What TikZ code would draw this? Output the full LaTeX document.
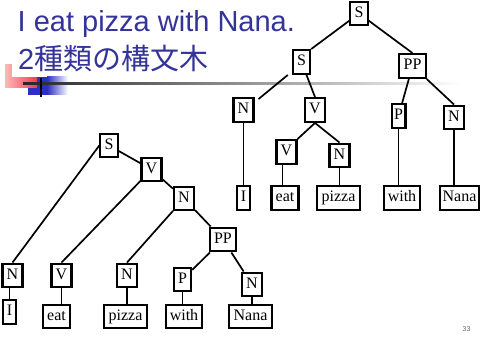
\documentclass[tikz,border=0pt]{standalone}
\usepackage{fontspec}
\setmainfont{Liberation Serif}
\newfontfamily\titlefont{Liberation Sans}
\newfontfamily\cjkfont{Noto Sans CJK JP}
\definecolor{titleblue}{RGB}{51,51,153}
\definecolor{pinkL}{RGB}{255,185,185}
\definecolor{pinkR}{RGB}{238,60,80}
\definecolor{blueD}{RGB}{45,45,200}
\begin{document}
\begin{tikzpicture}[x=1pt,y=-1pt,
  box/.style={draw,line width=2.1pt,inner xsep=4.2pt,inner ysep=0pt,
    minimum height=23.8pt,text height=11pt,text depth=3.5pt,
    font=\fontsize{16}{16}\selectfont},
  edge/.style={line width=1.7pt},
  ttl/.style={anchor=base west,inner sep=0pt,text=titleblue,
    font=\titlefont\fontsize{29}{29}\selectfont}]
\useasboundingbox[fill=white] (0,0) rectangle (480,353);
% decoration
\fill[blueD] (28,77) rectangle (47,95);
\shade[left color=blueD,right color=white] (47,77) rectangle (68,95);
\shade[left color=pinkL,right color=pinkR] (5,65) rectangle (37,88);
\fill[white] (12,63) rectangle (40,77);
\shade[left color=black!85,right color=white] (23,83) rectangle (462,85);
\fill[black] (40,78) rectangle (42,97);
% title
\node[ttl] (t1) at (17.5,32) {I eat pizza with Nana.};
\node[ttl] (t2) at (18,69.5) {2{\cjkfont 種類の構文木}};
\node[inner sep=0pt,text=black!60,font=\titlefont\fontsize{7}{7}\selectfont] (pg) at (466.5,329.5) {33};
% upper tree
\node[box] (uS) at (359,13.5) {S};
\node[box] (uS2) at (301.5,62) {S};
\node[box] (uPP) at (412.5,66) {PP};
\node[box] (uN) at (243.5,110) {N};
\node[box] (uV) at (315,110) {V};
\node[box] (uVs) at (286.5,152) {V};
\node[box] (uNs) at (339.5,155.5) {N};
\node[box,inner xsep=2.5pt] (uP) at (398.5,116) {P};
\node[box] (uNr) at (454,117.5) {N};
\node[box] (uI) at (243.5,198) {I};
\node[box] (ueat) at (285,198) {eat};
\node[box] (upizza) at (338.5,198) {pizza};
\node[box] (uwith) at (402,198) {with};
\node[box,inner xsep=3pt] (uNana) at (459.5,198) {Nana};
\draw[edge] (uS) -- (uS2.north east);
\draw[edge] (uS) -- (uPP.north);
\draw[edge] ([xshift=-4pt]uS2.south west) -- ([xshift=4pt,yshift=-2pt]uN.north east);
\draw[edge] (uS2) -- (uV.north);
\draw[edge] (uN) -- (uI);
\draw[edge] (uV.south) -- (uVs.north east);
\draw[edge] (uV.south) -- (uNs.north);
\draw[edge] ([xshift=-4pt]uVs.south) -- ([xshift=-4pt]uVs.south |- ueat.north);
\draw[edge] (uNs.south) -- (uNs.south |- upizza.north);
\draw[edge] (uPP) -- (uP);
\draw[edge] (uPP.south east) -- (uNr.north);
\draw[edge] (uP.south) -- (uP.south |- uwith.north);
\draw[edge] (uNr.south) -- (uNr.south |- uNana.north);
% lower tree
\node[box] (lS) at (109,145.5) {S};
\node[box] (lV) at (151.5,169.5) {V};
\node[box] (lN) at (184,198.5) {N};
\node[box] (lPP) at (223,239.5) {PP};
\node[box] (lN1) at (12.5,275.5) {N};
\node[box] (lI) at (9.5,312) {I};
\node[box] (lV1) at (61.5,275.5) {V};
\node[box] (leat) at (56.5,316.5) {eat};
\node[box] (lN2) at (127,275.5) {N};
\node[box] (lpizza) at (125.5,316.5) {pizza};
\node[box] (lP) at (182.5,279.5) {P};
\node[box] (lwith) at (184,316.5) {with};
\node[box] (lN3) at (252,284.5) {N};
\node[box] (lNana) at (250.5,316.5) {Nana};
\draw[edge] (lS.west) -- (lN1.north);
\draw[edge] (lS) -- (lV);
\draw[edge] (lV) -- (lV1.north);
\draw[edge] (lV) -- (lN);
\draw[edge] (lN) -- (lN2.north);
\draw[edge] (lN) -- (lPP);
\draw[edge] (lPP) -- (lP);
\draw[edge] (lPP) -- (lN3);
\draw[edge] (lI.north) -- (lI.north |- lN1.south);
\draw[edge] (lV1.south) -- (lV1.south |- leat.north);
\draw[edge] (lN2.south) -- (lN2.south |- lpizza.north);
\draw[edge] (lP.south) -- (lP.south |- lwith.north);
\draw[edge] (lN3.south) -- (lN3.south |- lNana.north);
\end{tikzpicture}
\end{document}
